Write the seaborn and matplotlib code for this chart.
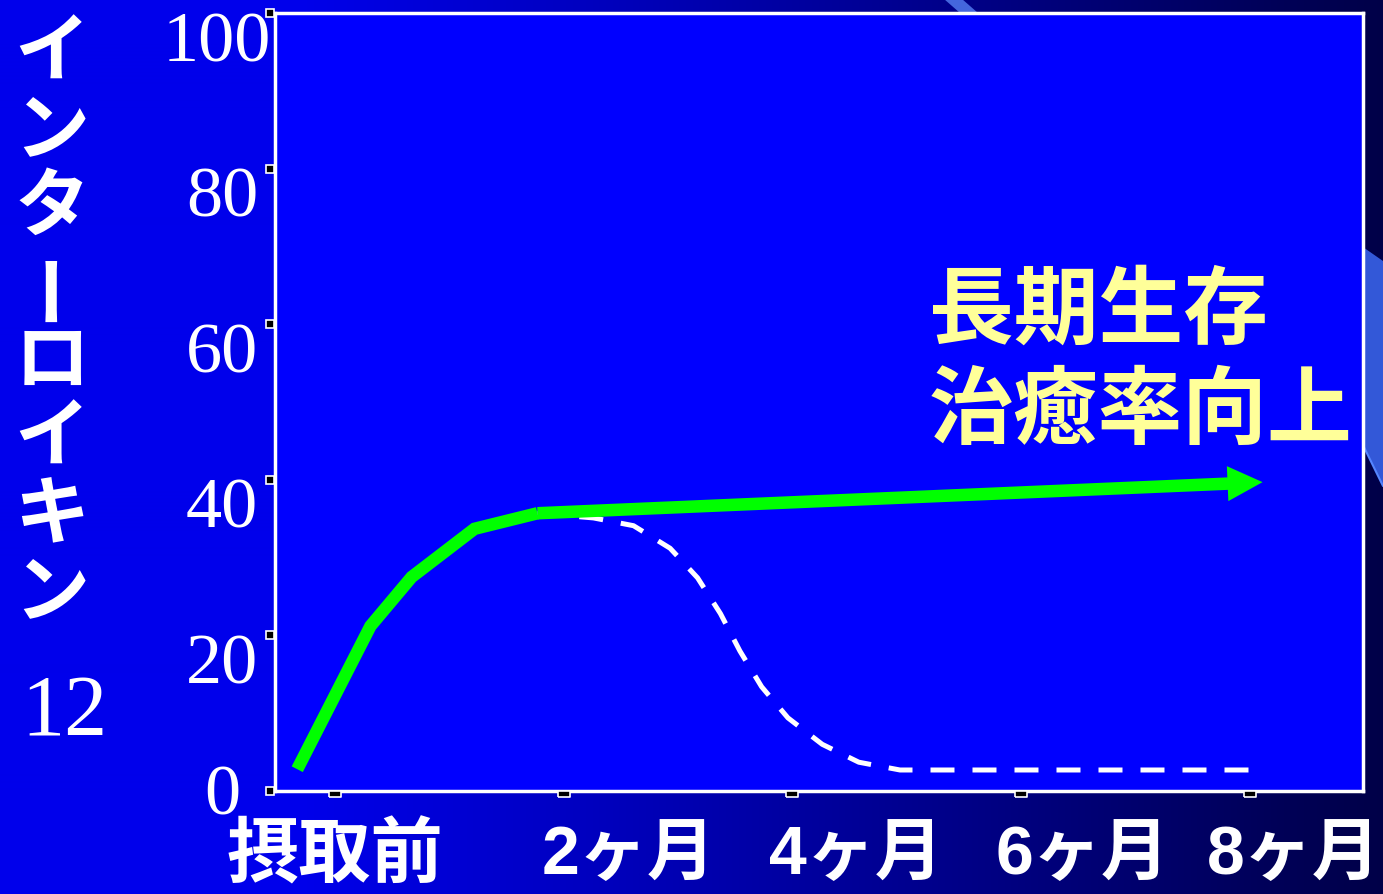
import numpy as np
import matplotlib
matplotlib.use("Agg")
import matplotlib.pyplot as plt
from matplotlib.transforms import ScaledTranslation, blended_transform_factory
from matplotlib.patches import Polygon
import seaborn as sns

# ---- data -------------------------------------------------------------
# IL-12 level over time (months after intake; 0 = before intake)
months_sustained = [-0.33, 0.31, 0.67, 1.22, 1.77]
il12_sustained = [2.8, 21.2, 27.5, 33.7, 35.7]
arrow_end_month = 8.11
arrow_end_value = 39.7

# IL-12 level for the response that fades out
months_faded = [1.77, 2.26, 2.61, 2.93, 3.17, 3.37, 3.54, 3.73, 3.96, 4.26, 4.58, 4.94, 8.0]
il12_faded = [35.7, 35.1, 34.1, 31.2, 27.4, 22.8, 18.0, 13.4, 9.4, 6.0, 3.7, 2.7, 2.7]

x_ticks = [0, 2, 4, 6, 8]
x_labels = ["摂取前", "2ヶ月", "4ヶ月", "6ヶ月", "8ヶ月"]
y_ticks = [0, 20, 40, 60, 80, 100]
y_label_chars = list("インターロイキン")
y_label_suffix = "12"
note_lines = ["長期生存", "治癒率向上"]

# ---- style ------------------------------------------------------------
sns.set_theme(style="ticks")
plt.rcParams["font.family"] = ["Noto Sans CJK JP", "DejaVu Sans"]

W, H, DPI = 1383, 895, 100
fig = plt.figure(figsize=(W / DPI, H / DPI), dpi=DPI)

GREEN = "#00FF00"
NOTE = "#FFFF99"
PLOT_BG = "#0000FF"

# slide background: horizontal blue-to-navy gradient with light ribbons
bg = fig.add_axes([0, 0, 1, 1], zorder=-10)
bg.set_axis_off()
xs = np.arange(W)
blue = np.clip(235 - (xs - 300) * (235 - 72) / (W - 300), 72, 235)
grad = np.zeros((2, W, 3))
grad[..., 2] = blue / 255.0
bg.imshow(grad, extent=(0, W, H, 0), aspect="auto", interpolation="bilinear")
bg.add_patch(Polygon([(944, 0), (962, 0), (978, 14), (960, 14)], closed=True,
                     fc="#4466DD", ec="none"))
bg.add_patch(Polygon([(1360, 246), (1383, 262), (1383, 487), (1360, 440)], closed=True,
                     fc="#3358D8", ec="none"))
bg.plot([1360, 1383], [440, 487], color="#5585FF", lw=1.5)
bg.set_xlim(0, W)
bg.set_ylim(H, 0)

# plotting area
ax = fig.add_axes([275 / W, (H - 792) / H, (1363 - 275) / W, (792 - 14) / H])
ax.set_facecolor(PLOT_BG)

sns.lineplot(x=months_faded, y=il12_faded, ax=ax, color="white", lw=3.6,
             linestyle=(0, (4.8, 3.6)), sort=False, estimator=None, zorder=2)
sns.lineplot(x=months_sustained, y=il12_sustained, ax=ax, color=GREEN, lw=9,
             sort=False, estimator=None, zorder=3,
             solid_capstyle="butt", solid_joinstyle="miter")
ax.annotate("", xy=(arrow_end_month, arrow_end_value),
            xytext=(months_sustained[-1], il12_sustained[-1]),
            arrowprops=dict(arrowstyle="simple,head_length=0.7,head_width=0.7,tail_width=0.25",
                            mutation_scale=36, fc=GREEN, ec="none",
                            shrinkA=0, shrinkB=0),
            zorder=3)

ax.set_xlim(-0.5246, 8.988)
ax.set_ylim(0, 100)
ax.set_xlabel("")
ax.set_ylabel("")

for side in ["left", "right", "top", "bottom"]:
    ax.spines[side].set_visible(True)
    ax.spines[side].set_color("white")
    ax.spines[side].set_linewidth(2.5)

# y ticks: serif numbers
ax.set_yticks(y_ticks)
ax.set_yticklabels([str(v) for v in y_ticks])
ax.tick_params(axis="y", length=0, pad=38, labelcolor="white")
y_shift = {0: 2}
x_nudge = {100: -5}
for val, lbl in zip(y_ticks, ax.get_yticklabels()):
    lbl.set_fontfamily(["Liberation Serif"])
    lbl.set_fontsize(52)
    lbl.set_horizontalalignment("center")
    dy = y_shift.get(val, -22)
    dx = x_nudge.get(val, 0)
    lbl.set_transform(lbl.get_transform() + ScaledTranslation(dx / DPI, dy / DPI, fig.dpi_scale_trans))

# x ticks: bold labels
ax.set_xticks(x_ticks)
ax.set_xticklabels(x_labels)
ax.tick_params(axis="x", length=0, pad=23, labelcolor="white")
x_shift = [0, 65, 63, 61, 44]
for i, lbl in enumerate(ax.get_xticklabels()):
    lbl.set_fontfamily(["Liberation Sans", "Noto Sans CJK JP"])
    lbl.set_fontweight("bold")
    lbl.set_fontsize(52 if i == 0 else 49)
    lbl.set_transform(lbl.get_transform() + ScaledTranslation(x_shift[i] / DPI, 0, fig.dpi_scale_trans))

# small boxed tick marks on the left and bottom spines
left_tr = blended_transform_factory(ax.transAxes, ax.transData) + \
    ScaledTranslation(-5 / DPI, 0, fig.dpi_scale_trans)
ax.plot(np.zeros(len(y_ticks)), y_ticks, transform=left_tr, ls="none", marker="s",
        ms=5.5, mfc="black", mec="white", mew=1.2, clip_on=False, zorder=6)
bottom_tr = blended_transform_factory(ax.transData, ax.transAxes) + \
    ScaledTranslation(0, -3 / DPI, fig.dpi_scale_trans)
box = [(-1, -0.5), (1, -0.5), (1, 0.5), (-1, 0.5), (-1, -0.5)]
ax.plot(x_ticks, np.zeros(len(x_ticks)), transform=bottom_tr, ls="none", marker=box,
        ms=8.5, mfc="black", mec="white", mew=1.2, clip_on=False, zorder=6)

# vertical axis title, written top to bottom
def px(x, y):
    return x / W, 1 - y / H

for i, ch in enumerate(y_label_chars):
    fig.text(*px(52, 54 + 77 * i), ch, color="white", fontsize=54, fontweight="bold",
             ha="center", va="center", rotation=90 if ch == "ー" else 0)
fig.text(*px(64, 715), y_label_suffix, color="white", fontsize=62,
         family=["Liberation Serif"], ha="center", va="center")

# annotation inside the plot
for j, line in enumerate(note_lines):
    fig.text(*px(929, 311 + 101 * j), line, color=NOTE, fontsize=61, fontweight="bold",
             ha="left", va="center", zorder=5)

fig.savefig("out.png", dpi=DPI, facecolor="#0000EE")
